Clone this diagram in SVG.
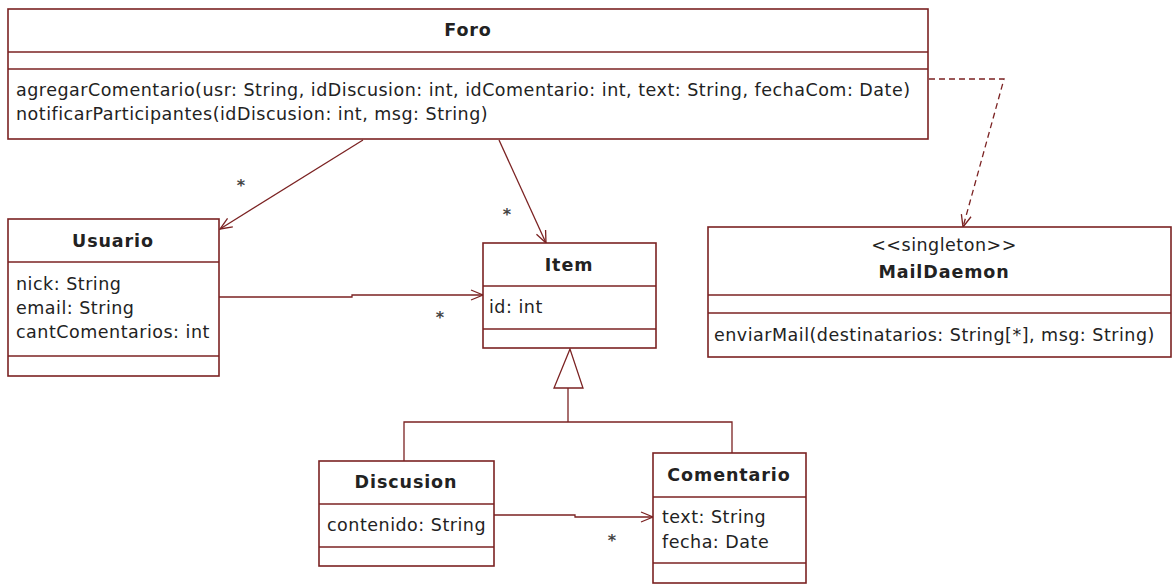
<svg xmlns="http://www.w3.org/2000/svg" width="1176" height="584" viewBox="0 0 1176 584">
<style>
.box{fill:#ffffff;stroke:#7b2222;stroke-width:1.6}
.div{stroke:#7b2222;stroke-width:1.6}
.t{font-family:"DejaVu Sans",Tahoma,sans-serif;font-size:17.5px;letter-spacing:0.5px;fill:#222222}
.b{font-family:"DejaVu Sans",Tahoma,sans-serif;font-size:17.5px;letter-spacing:0.9px;font-weight:bold;fill:#222222;text-anchor:middle}
.c{text-anchor:middle}
.ln{fill:none;stroke:#7b2222;stroke-width:1.3}
.dash{stroke-dasharray:6 4}
.star{font-family:"DejaVu Sans",sans-serif;font-size:16px;font-weight:bold;fill:#444444;text-anchor:middle}
</style>
<defs>
<marker id="open" viewBox="0 0 14 12" refX="13" refY="6" markerWidth="14" markerHeight="12" markerUnits="userSpaceOnUse" orient="auto">
<path d="M1,1 L13,6 L1,11" fill="none" stroke="#7b2222" stroke-width="1.3"/>
</marker>
</defs>
<rect width="1176" height="584" fill="#ffffff"/>
<g id="connectors">
<line class="ln" x1="363" y1="140" x2="220" y2="229" marker-end="url(#open)"/>
<line class="ln" x1="499" y1="140" x2="546" y2="243" marker-end="url(#open)"/>
<polyline class="ln" points="219,297 352,297 352,295 483,295" marker-end="url(#open)"/>
<polyline class="ln" points="494,515 575,515 575,517 653,517" marker-end="url(#open)"/>
<polyline class="ln dash" points="929,79 1004,79 963,227" marker-end="url(#open)"/>
<polygon points="570,349 554,388 583,388" fill="#ffffff" stroke="#7b2222" stroke-width="1.3"/>
<polyline class="ln" points="568,388 568,422"/>
<polyline class="ln" points="404,461 404,422 732,422 732,453"/>
<text class="star" x="241" y="191">*</text>
<text class="star" x="507" y="220">*</text>
<text class="star" x="440" y="323">*</text>
<text class="star" x="612" y="546">*</text>
</g>
<g id="Foro">
<rect class="box" x="8" y="9" width="920" height="130"/>
<line class="div" x1="8" y1="52" x2="928" y2="52"/>
<line class="div" x1="8" y1="69" x2="928" y2="69"/>
<text class="b" x="468" y="36">Foro</text>
<text class="t" x="16" y="96">agregarComentario(usr: String, idDiscusion: int, idComentario: int, text: String, fechaCom: Date)</text>
<text class="t" x="16" y="120">notificarParticipantes(idDiscusion: int, msg: String)</text>
</g>
<g id="Usuario">
<rect class="box" x="8" y="219" width="211" height="157"/>
<line class="div" x1="8" y1="262" x2="219" y2="262"/>
<line class="div" x1="8" y1="356" x2="219" y2="356"/>
<text class="b" x="113" y="247">Usuario</text>
<text class="t" x="16" y="290">nick: String</text>
<text class="t" x="16" y="314">email: String</text>
<text class="t" x="16" y="338">cantComentarios: int</text>
</g>
<g id="Item">
<rect class="box" x="483" y="243" width="173" height="105"/>
<line class="div" x1="483" y1="286" x2="656" y2="286"/>
<line class="div" x1="483" y1="329" x2="656" y2="329"/>
<text class="b" x="569" y="271">Item</text>
<text class="t" x="489" y="313">id: int</text>
</g>
<g id="MailDaemon">
<rect class="box" x="708" y="227" width="463" height="130"/>
<line class="div" x1="708" y1="295" x2="1171" y2="295"/>
<line class="div" x1="708" y1="313" x2="1171" y2="313"/>
<text class="t c" x="944" y="251">&lt;&lt;singleton&gt;&gt;</text>
<text class="b" x="944" y="278">MailDaemon</text>
<text class="t" x="714" y="341">enviarMail(destinatarios: String[*], msg: String)</text>
</g>
<g id="Discusion">
<rect class="box" x="319" y="461" width="175" height="105"/>
<line class="div" x1="319" y1="504" x2="494" y2="504"/>
<line class="div" x1="319" y1="547" x2="494" y2="547"/>
<text class="b" x="406" y="488">Discusion</text>
<text class="t" x="327" y="531">contenido: String</text>
</g>
<g id="Comentario">
<rect class="box" x="653" y="453" width="153" height="130"/>
<line class="div" x1="653" y1="497" x2="806" y2="497"/>
<line class="div" x1="653" y1="563" x2="806" y2="563"/>
<text class="b" x="729" y="481">Comentario</text>
<text class="t" x="662" y="523">text: String</text>
<text class="t" x="662" y="548">fecha: Date</text>
</g>
</svg>
